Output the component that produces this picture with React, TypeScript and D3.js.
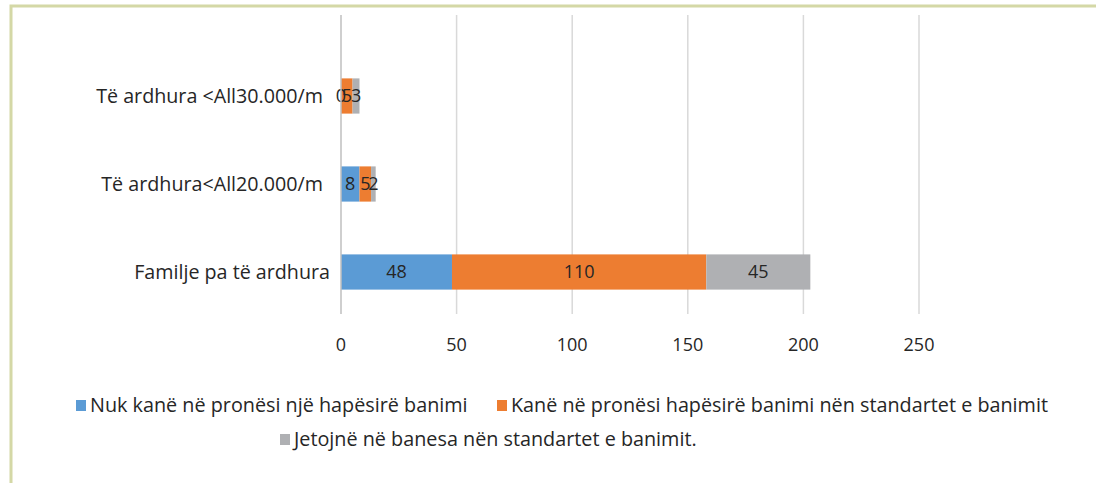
import React, { useEffect, useRef } from 'react';
import * as d3 from 'd3';

const categories = ['Të ardhura <All30.000/m', 'Të ardhura<All20.000/m', 'Familje pa të ardhura'];
const seriesNames = [
  'Nuk kanë në pronësi një hapësirë banimi',
  'Kanë në pronësi hapësirë banimi nën standartet e banimit',
  'Jetojnë në banesa nën standartet e banimit.',
];
const noHome = [0, 8, 48];
const belowStdOwned = [5, 5, 110];
const belowStdLiving = [3, 2, 45];
const xTicks = [0, 50, 100, 150, 200, 250];

const colors = ['#5b9bd5', '#ed7d31', '#afb0b3'];
const font = '"Open Sans", sans-serif';

const App = () => {
  const ref = useRef<SVGSVGElement | null>(null);

  useEffect(() => {
    if (!ref.current) return;
    const svg = d3.select(ref.current);
    svg.selectAll('*').remove();

    // frame
    svg.append('path')
      .attr('d', 'M11,483 V6 H1096')
      .attr('fill', 'none')
      .attr('stroke', '#d4d8a6')
      .attr('stroke-width', 3);

    const x = d3.scaleLinear().domain([0, 250]).range([341, 919]);
    const y = d3.scaleBand().domain(categories).range([52, 316]).paddingInner(0.6).paddingOuter(0.3);
    const top = 15, bottom = 314;

    svg.append('g')
      .selectAll('line')
      .data(xTicks.slice(1))
      .enter().append('line')
      .attr('x1', d => x(d)).attr('x2', d => x(d))
      .attr('y1', top).attr('y2', bottom)
      .attr('stroke', '#d9d9d9').attr('stroke-width', 1.5);

    const rows = categories.map((c, i) => ({ cat: c, vals: [noHome[i], belowStdOwned[i], belowStdLiving[i]] }));
    const stack = d3.stack<any>().keys(['0', '1', '2']).value((d, k) => d.vals[+k]);
    const layers = stack(rows);

    const g = svg.append('g');
    layers.forEach((layer, si) => {
      layer.forEach((seg, ri) => {
        g.append('rect')
          .attr('x', x(seg[0]))
          .attr('y', y(rows[ri].cat)!)
          .attr('width', x(seg[1]) - x(seg[0]))
          .attr('height', y.bandwidth())
          .attr('fill', colors[si]);
      });
    });
    layers.forEach((layer, si) => {
      layer.forEach((seg, ri) => {
        g.append('text')
          .attr('x', (x(seg[0]) + x(seg[1])) / 2)
          .attr('y', y(rows[ri].cat)! + y.bandwidth() / 2)
          .attr('dy', '0.35em')
          .attr('text-anchor', 'middle')
          .attr('font-family', font)
          .attr('font-size', 18)
          .attr('fill', '#262626')
          .text(rows[ri].vals[si]);
      });
    });

    // vertical axis line
    svg.append('line')
      .attr('x1', x(0)).attr('x2', x(0))
      .attr('y1', top).attr('y2', bottom)
      .attr('stroke', '#bfbfbf').attr('stroke-width', 1.5);

    svg.append('g')
      .selectAll('text')
      .data(categories)
      .enter().append('text')
      .attr('x', d => (d.startsWith('Familje') ? 330 : 323))
      .attr('y', d => y(d)! + y.bandwidth() / 2)
      .attr('dy', '0.35em')
      .attr('text-anchor', 'end')
      .attr('font-family', font)
      .attr('font-size', 19.7)
      .attr('fill', '#262626')
      .text(d => d);

    svg.append('g')
      .selectAll('text')
      .data(xTicks)
      .enter().append('text')
      .attr('x', d => x(d))
      .attr('y', 345)
      .attr('dy', '0.35em')
      .attr('text-anchor', 'middle')
      .attr('font-family', font)
      .attr('font-size', 18)
      .attr('fill', '#262626')
      .text(d => d);

    // legend
    const legendPos = [[76, 405], [497, 405], [280, 439]];
    seriesNames.forEach((name, i) => {
      const [lx, ly] = legendPos[i];
      svg.append('rect')
        .attr('x', lx).attr('y', ly - 5)
        .attr('width', 10).attr('height', 11)
        .attr('fill', colors[i]);
      svg.append('text')
        .attr('x', lx + 14).attr('y', ly)
        .attr('dy', '0.35em')
        .attr('font-family', font)
        .attr('font-size', 19.8)
        .attr('fill', '#262626')
        .text(name);
    });
  }, []);

  return <svg ref={ref} width={1096} height={483} style={{ position: 'absolute', left: 0, top: 0 }}></svg>;
};

export default App;
